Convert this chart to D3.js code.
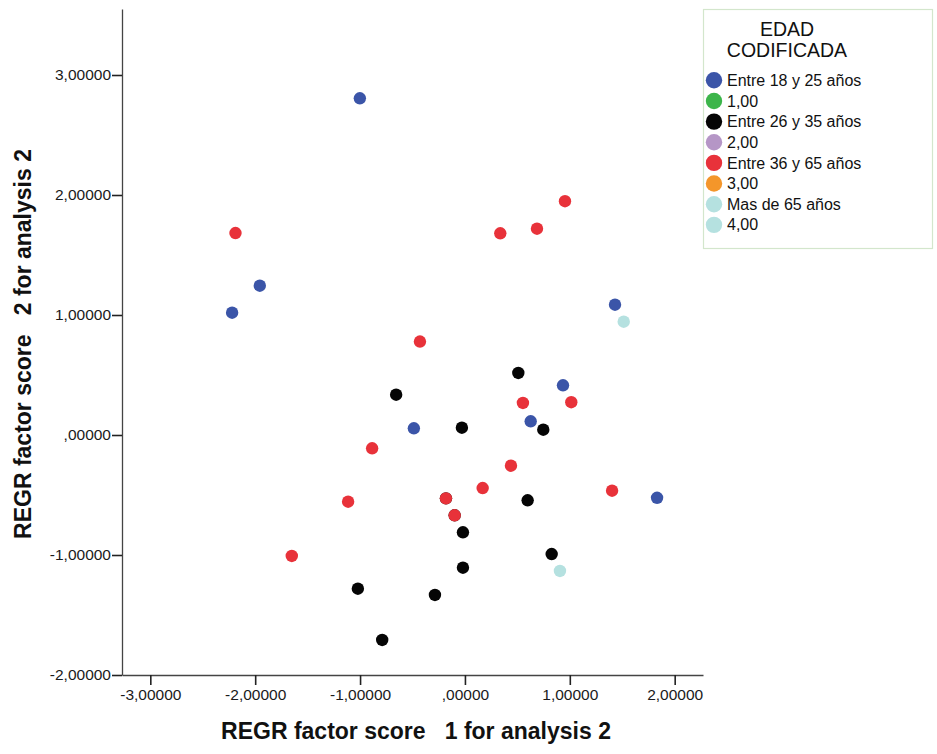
<!DOCTYPE html>
<html>
<head>
<meta charset="utf-8">
<script src="https://cdn.jsdelivr.net/npm/d3@7"></script>
<style>
  html, body { margin: 0; padding: 0; background: #ffffff; }
  svg { display: block; font-family: "Liberation Sans", Arial, Helvetica, sans-serif; }
</style>
</head>
<body>
<svg id="chart" width="937" height="754"></svg>
<script>
// Factor scores per age group (x = factor 1, y = factor 2)
const blueX  = [-1.002, -1.956, -2.220, 1.431, 0.935, -0.487, 0.627, 1.832];
const blueY  = [ 2.806,  1.244,  1.019, 1.086, 0.414,  0.056, 0.114, -0.523];

const blackX = [0.509, -0.656, -0.029, 0.747, 0.598, -0.019, 0.827, -0.019, -1.021, -0.286, -0.789, -0.181, -0.098];
const blackY = [0.517,  0.336,  0.061, 0.044, -0.544, -0.811, -0.992, -1.106, -1.281, -1.333, -1.708, -0.528, -0.669];

const redX   = [-2.188, 0.337, 0.687, 0.954, -0.429, 0.553, 1.014, -0.885, 0.439, 0.169, -1.114, -0.181, -0.098, 1.403, -1.651];
const redY   = [ 1.683, 1.681, 1.719, 1.948,  0.779, 0.267, 0.273, -0.111, -0.256, -0.442, -0.556, -0.528, -0.669, -0.464, -1.008];

const cyanX  = [1.514, 0.906];
const cyanY  = [0.944, -1.133];

// Legend entries
const legendLabels = ["Entre 18 y 25 años", "1,00", "Entre 26 y 35 años", "2,00",
                      "Entre 36 y 65 años", "3,00", "Mas de 65 años", "4,00"];
const legendColors = ["#3b55a8", "#3cb54a", "#050505", "#b596c6",
                      "#e8323a", "#f4962a", "#b5e1e0", "#b5e1e0"];

const xTicks = [-3, -2, -1, 0, 1, 2];
const yTicks = [-2, -1, 0, 1, 2, 3];

const svg = d3.select("#chart");

const x = d3.scaleLinear().domain([-3.27, 2.27]).range([122, 703]);
const y = d3.scaleLinear().domain([-2, 3.55]).range([675, 9]);

// SPSS-style number format: comma decimal, no leading zero for 0
const fmt = d => d === 0 ? ",00000" : d.toFixed(5).replace(".", ",");

// Axes
const xAxis = svg.append("g")
  .attr("transform", `translate(0,${y(-2)})`)
  .call(d3.axisBottom(x).tickValues(xTicks).tickFormat(fmt).tickSize(10).tickPadding(4).tickSizeOuter(0));
const yAxis = svg.append("g")
  .attr("transform", `translate(${x(-3.27)},0)`)
  .call(d3.axisLeft(y).tickValues(yTicks).tickFormat(fmt).tickSize(10).tickPadding(1).tickSizeOuter(0));

[xAxis, yAxis].forEach(g => {
  g.select(".domain").attr("stroke", "#444").attr("stroke-width", 1.3);
  g.selectAll(".tick line").attr("stroke", "#222").attr("stroke-width", 1.6);
  g.selectAll(".tick text")
    .attr("fill", "#1a1a1a")
    .style("font-size", "15.5px")
    .style("font-family", "'Liberation Sans', Arial, sans-serif");
});

// Axis titles
svg.append("text")
  .attr("x", 416).attr("y", 739)
  .attr("text-anchor", "middle")
  .style("font-size", "23px").style("font-weight", "bold")
  .attr("fill", "#111")
  .style("white-space", "pre")
  .text("REGR factor score   1 for analysis 2");

svg.append("text")
  .attr("transform", "translate(31,344) rotate(-90)")
  .attr("text-anchor", "middle")
  .style("font-size", "23px").style("font-weight", "bold")
  .attr("fill", "#111")
  .style("white-space", "pre")
  .text("REGR factor score   2 for analysis 2");

// Points
const groups = [
  { xs: blueX,  ys: blueY,  color: legendColors[0] },
  { xs: blackX, ys: blackY, color: legendColors[2] },
  { xs: redX,   ys: redY,   color: legendColors[4] },
  { xs: cyanX,  ys: cyanY,  color: legendColors[6] }
];

const plot = svg.append("g");
groups.forEach(gr => {
  plot.selectAll(null)
    .data(gr.xs.map((v, i) => [v, gr.ys[i]]))
    .join("circle")
    .attr("cx", d => x(d[0]))
    .attr("cy", d => y(d[1]))
    .attr("r", 6.2)
    .attr("fill", gr.color);
});

// Legend
const legend = svg.append("g");
legend.append("rect")
  .attr("x", 703.5).attr("y", 9.5)
  .attr("width", 229).attr("height", 239)
  .attr("fill", "#fff")
  .attr("stroke", "#d3e6cc").attr("stroke-width", 1.2);

legend.append("text")
  .attr("x", 787).attr("y", 36)
  .attr("text-anchor", "middle")
  .style("font-size", "19.5px").attr("fill", "#111")
  .text("EDAD");
legend.append("text")
  .attr("x", 787).attr("y", 57)
  .attr("text-anchor", "middle")
  .style("font-size", "19.5px").attr("fill", "#111")
  .text("CODIFICADA");

const items = legend.selectAll("g.item")
  .data(legendLabels)
  .join("g")
  .attr("class", "item")
  .attr("transform", (d, i) => `translate(0,${80.3 + i * 20.65})`);

items.append("circle")
  .attr("cx", 714).attr("cy", 0).attr("r", 8.2)
  .attr("fill", (d, i) => legendColors[i]);

items.append("text")
  .attr("x", 727).attr("y", 5.6)
  .style("font-size", "16px").attr("fill", "#111")
  .text(d => d);
</script>
</body>
</html>
